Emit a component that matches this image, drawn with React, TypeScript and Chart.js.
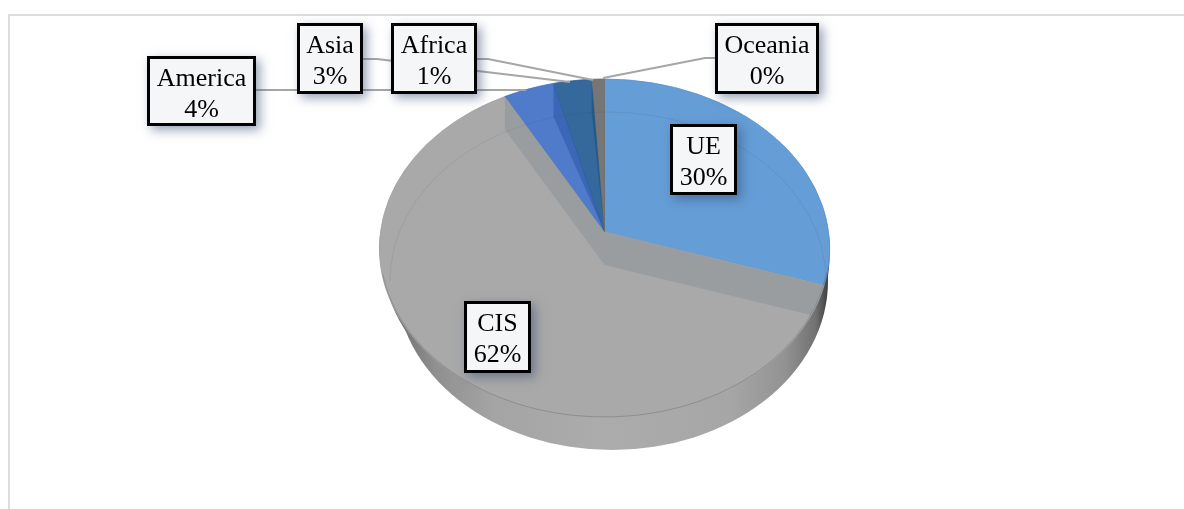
import React, { useEffect, useRef } from "react";
import { Chart, registerables } from "chart.js";

Chart.register(...registerables);

// Share of each region, in percent, clockwise from twelve o'clock.
const regions = ["UE", "CIS", "America", "Asia", "Africa", "Oceania"];
const shares = [30, 62, 4, 3, 1, 0];
const sliceColors = ["#659dd6", "#a9a9a9", "#4f7bca", "#35699c", "#767676", "#5b9bd5"];
const sliceEdges = ["#5a93cb", "#a5a5a5", "#4a74bf", "#2f6293", "#6f6f6f", "#5b9bd5"];

const WIDTH = 1184;
const HEIGHT = 509;

// Perspective of the tilted disc.
const CENTER_X = 604.5;
const CENTER_Y = 232;
const SCALE_X = 224;
const SCALE_Y = 167.5;
const TILT = 0.0947;
const DEPTH = 33;

// Outline of the projected top face and of the disc's underside.
const RIM = { x: 604.5, y: 248, rx: 224.5, ry: 169 };
const UNDERSIDE = { x: 612, y: 281, rx: 216, ry: 169 };
const BACK_RING = { x: 608, y: 281, rx: 218, ry: 169 };

// Data label boxes: [left, top, right, bottom] per region.
const labelBoxes: Record<string, number[]> = {
  UE: [670, 124, 737, 195],
  CIS: [464, 301, 531, 373],
  America: [147, 56, 256, 126],
  Asia: [297, 23, 363, 94],
  Africa: [391, 23, 477, 94],
  Oceania: [715, 23, 819, 94],
};

// Leader lines from a label box to its slice.
const leaders: Record<string, number[][]> = {
  America: [[256, 90], [526, 90]],
  Asia: [[363, 59], [377, 59], [570, 82]],
  Africa: [[477, 59], [488, 59], [593, 80]],
  Oceania: [[715, 58], [705, 58], [603, 78]],
};

const project = (angle: number) => {
  const u = Math.cos(angle);
  const v = Math.sin(angle);
  const s = 1 / (1 - TILT * v);
  return { x: CENTER_X + SCALE_X * u * s, y: CENTER_Y + SCALE_Y * v * s };
};

const fillPolygon = (ctx: CanvasRenderingContext2D, pts: { x: number; y: number }[], color: string) => {
  ctx.beginPath();
  pts.forEach((p, i) => (i ? ctx.lineTo(p.x, p.y) : ctx.moveTo(p.x, p.y)));
  ctx.closePath();
  ctx.fillStyle = color;
  ctx.fill();
};

const tiltedPie = {
  id: "tiltedPie",
  beforeDraw(chart: any) {
    const ctx = chart.ctx as CanvasRenderingContext2D;
    ctx.save();
    ctx.fillStyle = "#dcdcdc";
    ctx.fillRect(8, 14, WIDTH - 8, 2);
    ctx.fillRect(8, 14, 2, HEIGHT - 14);
    ctx.restore();
  },
  beforeDatasetsDraw(chart: any) {
    const ctx = chart.ctx as CanvasRenderingContext2D;
    const meta = chart.getDatasetMeta(0);
    const arcs = meta.data;
    const radius = arcs[0].outerRadius;
    const originX = arcs[0].x;
    const originY = arcs[0].y;

    // Side wall of the disc, darkening towards both ends.
    const wall = ctx.createLinearGradient(RIM.x - RIM.rx, 0, RIM.x + RIM.rx, 0);
    wall.addColorStop(0, "#505050");
    wall.addColorStop(0.04, "#707070");
    wall.addColorStop(0.12, "#8f8f8f");
    wall.addColorStop(0.25, "#a4a4a4");
    wall.addColorStop(0.5, "#acacac");
    wall.addColorStop(0.78, "#a6a6a6");
    wall.addColorStop(0.9, "#939393");
    wall.addColorStop(0.97, "#727272");
    wall.addColorStop(1, "#3a3a3a");
    ctx.save();
    ctx.fillStyle = wall;
    ctx.beginPath();
    ctx.ellipse(UNDERSIDE.x, UNDERSIDE.y, UNDERSIDE.rx, UNDERSIDE.ry, 0, 0, 2 * Math.PI);
    ctx.fill();
    ctx.beginPath();
    ctx.ellipse(RIM.x + 1.5, RIM.y + 8, RIM.rx - 1, RIM.ry, 0, 0, 2 * Math.PI);
    ctx.fill();
    ctx.restore();

    // The library's arcs, redrawn row by row so the disc takes on the perspective.
    const firstRow = Math.floor(RIM.y - RIM.ry) - 1;
    const lastRow = Math.ceil(RIM.y + RIM.ry) + 1;
    for (let row = firstRow; row <= lastRow; row++) {
      const offset = row + 0.5 - CENTER_Y;
      const denom = SCALE_Y + TILT * offset;
      const v = offset / denom;
      const s = 1 / (1 - TILT * v);
      const dvdy = SCALE_Y / (denom * denom);
      ctx.save();
      ctx.beginPath();
      ctx.rect(0, row, WIDTH, 1);
      ctx.clip();
      ctx.translate(CENTER_X, row + 0.5);
      ctx.scale((SCALE_X * s) / radius, 1 / (dvdy * radius));
      ctx.translate(-originX, -(originY + v * radius));
      meta.controller.draw();
      ctx.restore();
    }

    const apex = { x: CENTER_X, y: CENTER_Y };
    const drop = (p: { x: number; y: number }) => ({ x: p.x, y: p.y + DEPTH });

    ctx.save();
    ctx.beginPath();
    ctx.ellipse(RIM.x, RIM.y, RIM.rx, RIM.ry, 0, 0, 2 * Math.PI);
    ctx.clip();

    // Cut faces bounding the CIS slice.
    const cisStart = project(arcs[1].startAngle);
    const cisEnd = project(arcs[1].endAngle);
    fillPolygon(ctx, [apex, cisStart, drop(cisStart), drop(apex), drop(cisEnd), cisEnd], "#9a9da0");

    // Cut faces of the narrow slices.
    const asiaEdge = project(arcs[3].startAngle);
    fillPolygon(ctx, [apex, asiaEdge, drop(asiaEdge)], "rgba(45,85,170,0.55)");
    const africaEdge = project(arcs[4].startAngle);
    fillPolygon(ctx, [apex, africaEdge, drop(africaEdge)], "rgba(25,85,135,0.75)");

    // Faint back rim showing through the top face.
    ctx.beginPath();
    ctx.ellipse(BACK_RING.x, BACK_RING.y, BACK_RING.rx, BACK_RING.ry, 0, Math.PI, 2 * Math.PI);
    ctx.strokeStyle = "rgba(60,70,80,0.10)";
    ctx.lineWidth = 1;
    ctx.stroke();
    ctx.restore();

    // Seam between top face and side wall.
    ctx.save();
    ctx.beginPath();
    ctx.ellipse(RIM.x, RIM.y, RIM.rx, RIM.ry, 0, 0.15, Math.PI - 0.15);
    ctx.strokeStyle = "rgba(90,90,90,0.30)";
    ctx.lineWidth = 1;
    ctx.stroke();
    ctx.restore();
    return false;
  },
  afterDraw(chart: any) {
    const ctx = chart.ctx as CanvasRenderingContext2D;
    ctx.save();

    ctx.strokeStyle = "#a6a6a6";
    ctx.lineWidth = 2;
    Object.values(leaders).forEach((pts) => {
      ctx.beginPath();
      pts.forEach(([x, y], i) => (i ? ctx.lineTo(x, y) : ctx.moveTo(x, y)));
      ctx.stroke();
    });

    regions.forEach((name, i) => {
      const [l, t, r, b] = labelBoxes[name];
      ctx.save();
      ctx.shadowColor = "rgba(50,70,110,0.5)";
      ctx.shadowBlur = 10;
      ctx.shadowOffsetX = 4;
      ctx.shadowOffsetY = 4;
      ctx.fillStyle = "#f5f6f8";
      ctx.fillRect(l, t, r - l, b - t);
      ctx.restore();
      ctx.strokeStyle = "#000000";
      ctx.lineWidth = 3;
      ctx.strokeRect(l + 1.5, t + 1.5, r - l - 3, b - t - 3);

      ctx.fillStyle = "#000000";
      ctx.font = '26px "Liberation Serif"';
      ctx.textAlign = "center";
      ctx.textBaseline = "alphabetic";
      const mid = (l + r) / 2;
      ctx.fillText(name, mid, t + 30);
      ctx.fillText(`${shares[i]}%`, mid, t + 61);
    });
    ctx.restore();
  },
};

export default function App() {
  const canvasRef = useRef<HTMLCanvasElement>(null);

  useEffect(() => {
    const chart = new Chart(canvasRef.current!, {
      type: "pie",
      data: {
        labels: regions,
        datasets: [
          {
            data: shares,
            backgroundColor: sliceColors,
            borderColor: sliceEdges,
            borderWidth: 1,
          },
        ],
      },
      options: {
        responsive: false,
        animation: false,
        layout: { padding: { left: 25, top: 7, bottom: 52 } },
        plugins: { legend: { display: false }, tooltip: { enabled: false } },
      },
      plugins: [tiltedPie],
    });
    return () => chart.destroy();
  }, []);

  return (
    <canvas
      ref={canvasRef}
      width={WIDTH}
      height={HEIGHT}
      style={{ position: "absolute", left: 0, top: 0, display: "block" }}
    />
  );
}
